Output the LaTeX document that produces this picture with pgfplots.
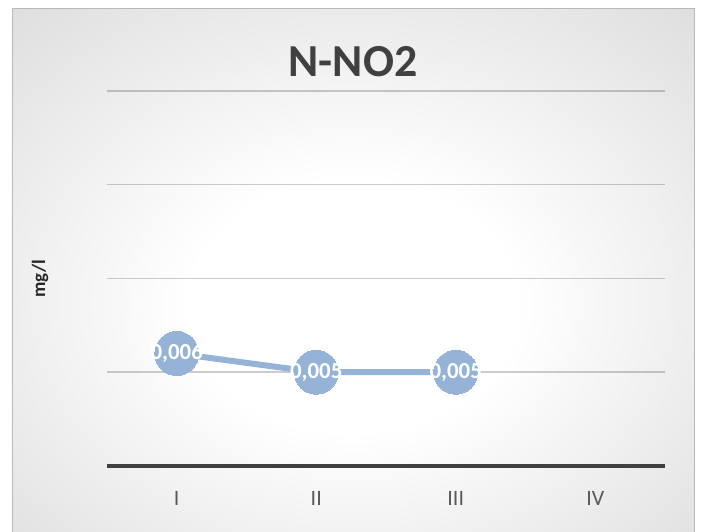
\documentclass[border=0pt]{standalone}
\usepackage{fontspec}
\setmainfont{Carlito}
\usepackage{pgfplots}
\pgfplotsset{compat=1.18}
\definecolor{serie}{RGB}{149,179,215}
\definecolor{txt}{RGB}{89,89,89}
\definecolor{ttl}{RGB}{64,64,64}
\pgfdeclareradialshading{bg}{\pgfpoint{0bp}{-4bp}}{color(0bp)=(white); color(12bp)=(white); color(45bp)=(black!17); color(71bp)=(black!24)}
\begin{document}
\begin{tikzpicture}[x=1bp,y=1bp]
\useasboundingbox (0,0) rectangle (701,532);
\path[fill=white] (0,0) rectangle (701,532);
\shade[shading=bg] (12,-2) rectangle (694,523);
\draw[black!28, line width=1bp] (12,-2) rectangle (694,523);
\node[font=\bfseries\fontsize{46}{46}\selectfont, text=ttl] at (353,470) {N-NO2};
\node[font=\bfseries\fontsize{19}{19}\selectfont, text=black!85, rotate=90] at (40,253) {mg/l};
\begin{axis}[
  at={(107bp,66bp)}, anchor=south west,
  scale only axis, width=558bp, height=375bp,
  xmin=-0.5, xmax=3.5, ymin=0, ymax=0.02,
  axis line style={draw=none},
  scaled y ticks=false,
  ytick={0.005,0.01,0.015,0.02}, yticklabels={},
  ymajorgrids, grid style={black, draw opacity=0.2, line width=1.5bp},
  extra y ticks={0}, extra y tick labels={},
  extra y tick style={grid style={ttl, draw opacity=1, line width=3.5bp}},
  xtick={0,1,2,3}, xticklabels={I,II,III,IV},
  major tick length=0,
  xticklabel style={font=\fontsize{22}{22}\selectfont, text=txt, yshift=-22bp},
  clip=false,
]
\addplot[serie, line width=6bp, mark=*, mark size=22bp,
  mark options={fill=serie, draw=serie, line width=0bp},
  nodes near coords, point meta=explicit symbolic,
  every node near coord/.style={anchor=center, text=white, font=\bfseries\fontsize{23}{23}\selectfont}]
  coordinates {(0,0.006)[0,006] (1,0.005)[0,005] (2,0.005)[0,005]};
\end{axis}
\end{tikzpicture}
\end{document}
